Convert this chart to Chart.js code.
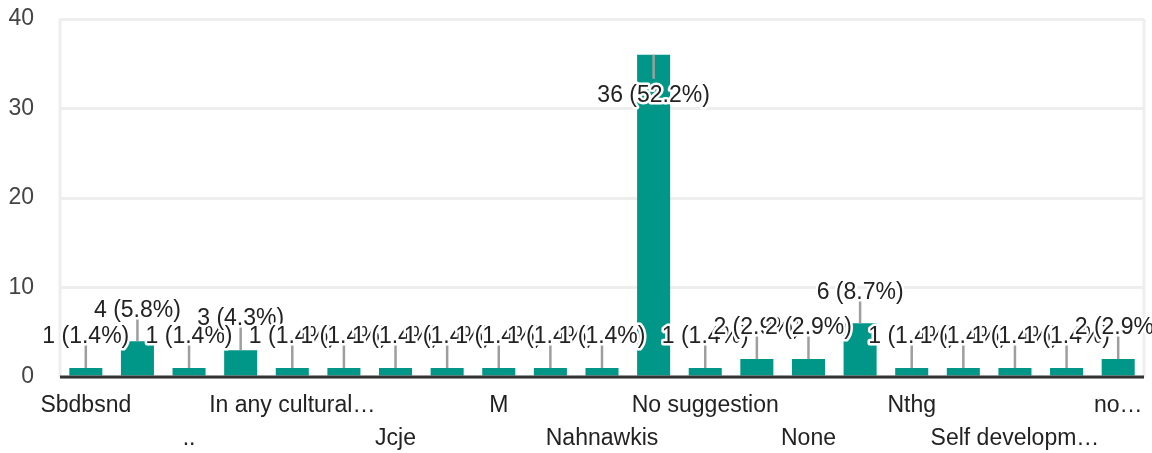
<!DOCTYPE html>
<html>
<head>
<meta charset="utf-8">
<script src="https://cdn.jsdelivr.net/npm/chart.js@4.4.1/dist/chart.umd.min.js"></script>
<style>
  html, body { margin: 0; padding: 0; background: #fff; }
</style>
</head>
<body>
<canvas id="c" width="1152" height="453"></canvas>
<script>
// answers as shown on the axis (odd ones are hidden by the axis anyway)
const answers = ['Sbdbsnd', '.', '..', 'Good', 'In any cultural…', "It's good", 'Jcje', 'Keep it up',
                 'M', 'Na', 'Nahnawkis', 'No', 'No suggestion', 'No suggestions', 'None', 'Nothing',
                 'Nthg', 'Plz conduct more events', 'Self developm…', 'Sports', 'no…']
const counts = [1, 4, 1, 3, 1, 1, 1, 1, 1, 1, 1, 36, 1, 2, 2, 6, 1, 1, 1, 1, 2]
const yTicks = [0, 10, 20, 30, 40]

const total = counts.reduce((a, b) => a + b, 0)
const FONT = '"Liberation Sans", Arial, sans-serif'

// grey side lines and the dark zero line
const frame = {
    id: 'frame',
    beforeDatasetsDraw(chart) {
        const ctx = chart.ctx, a = chart.chartArea
        ctx.save()
        ctx.strokeStyle = '#eeeeee'
        ctx.lineWidth = 3
        ctx.beginPath()
        ctx.moveTo(a.left, a.top); ctx.lineTo(a.left, a.bottom)
        ctx.moveTo(a.right, a.top); ctx.lineTo(a.right, a.bottom)
        ctx.stroke()
        ctx.restore()
    },
    afterDatasetsDraw(chart) {
        const ctx = chart.ctx, a = chart.chartArea
        const y0 = chart.scales.y.getPixelForValue(0)
        ctx.save()
        ctx.strokeStyle = '#333333'
        ctx.lineWidth = 3
        ctx.beginPath()
        ctx.moveTo(a.left, y0); ctx.lineTo(a.right, y0)
        ctx.stroke()
        ctx.restore()
    }
}

// value labels with a little stem, like the forms summary
const notes = {
    id: 'notes',
    afterDatasetsDraw(chart) {
        const ctx = chart.ctx, a = chart.chartArea
        const meta = chart.getDatasetMeta(0)
        ctx.save()
        ctx.font = '23px ' + FONT
        ctx.textAlign = 'center'
        ctx.textBaseline = 'middle'
        ctx.lineJoin = 'round'
        meta.data.forEach((bar, i) => {
            const v = counts[i]
            const txt = v + ' (' + (v / total * 100).toFixed(1) + '%)'
            let y1, ty
            if (bar.y - 24 - 24 < a.top) {
                y1 = bar.y + 24; ty = y1 + 17
            } else {
                y1 = bar.y - 23; ty = y1 - 8
            }
            ctx.strokeStyle = '#9e9e9e'
            ctx.lineWidth = 2.5
            ctx.beginPath()
            ctx.moveTo(bar.x, bar.y); ctx.lineTo(bar.x, y1)
            ctx.stroke()
            ctx.strokeStyle = '#ffffff'
            ctx.lineWidth = 5
            ctx.strokeText(txt, bar.x, ty)
            ctx.fillStyle = '#222222'
            ctx.fillText(txt, bar.x, ty)
        })
        ctx.restore()
    }
}

new Chart(document.getElementById('c'), {
    type: 'bar',
    data: {
        labels: answers,
        datasets: [{
            data: counts,
            backgroundColor: '#009688',
            categoryPercentage: 1,
            barPercentage: 0.64
        }]
    },
    options: {
        responsive: false,
        animation: false,
        devicePixelRatio: 1,
        layout: { padding: { top: 19, right: 8, left: 0, bottom: 0 } },
        plugins: { legend: { display: false }, tooltip: { enabled: false } },
        scales: {
            x: {
                grid: { display: false, drawTicks: false },
                border: { display: false },
                ticks: {
                    autoSkip: false,
                    maxRotation: 0,
                    minRotation: 0,
                    padding: 12,
                    color: '#222222',
                    font: { family: FONT, size: 23, lineHeight: 1.43 },
                    callback: (val, i) => {
                        if (i % 4 === 0) return answers[i]
                        if (i % 4 === 2) return ['', answers[i]]
                        return ''
                    }
                },
                afterFit: s => { s.height = 76; s.paddingLeft = 0; s.paddingRight = 0 }
            },
            y: {
                min: yTicks[0],
                max: yTicks[yTicks.length - 1],
                grid: { color: '#eeeeee', lineWidth: 3, drawTicks: false },
                border: { display: false },
                afterBuildTicks: s => { s.ticks = yTicks.map(v => ({ value: v })) },
                ticks: {
                    padding: 26,
                    color: '#444444',
                    font: { family: FONT, size: 23 }
                },
                afterFit: s => { s.width = 60; s.paddingTop = 0; s.paddingBottom = 0 }
            }
        }
    },
    plugins: [frame, notes]
})
</script>
</body>
</html>
